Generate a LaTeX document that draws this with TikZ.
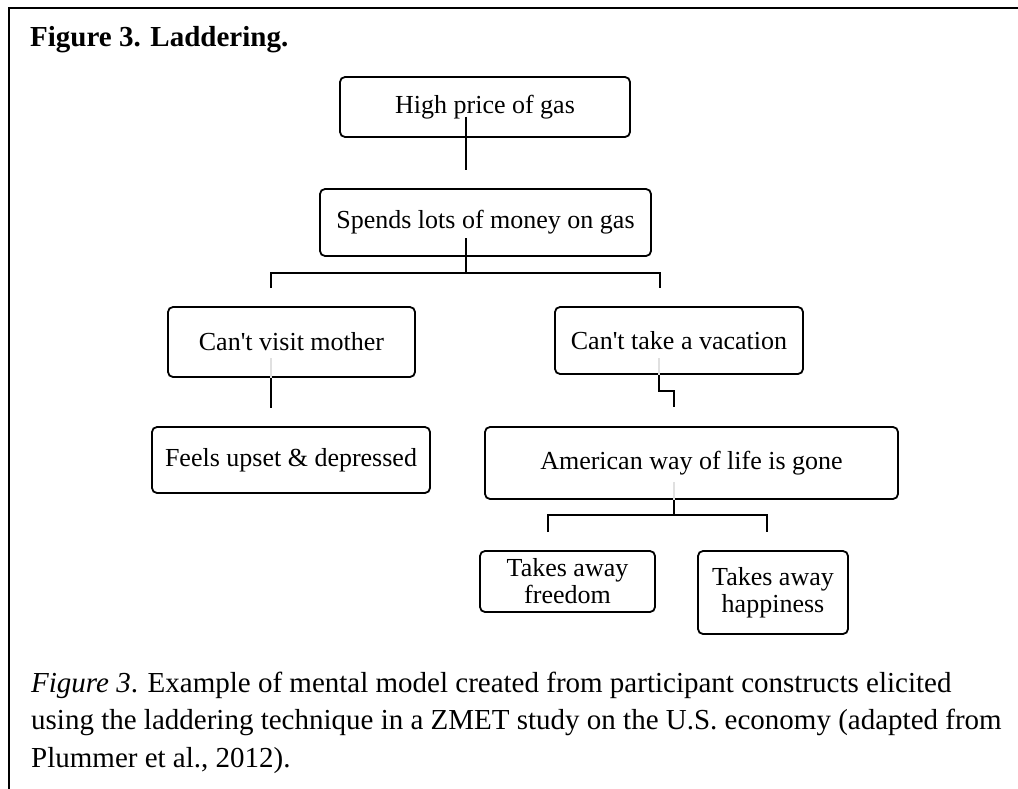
\documentclass[tikz,border=0pt]{standalone}
\usepackage{fontspec}
\setmainfont{Liberation Serif}
\usetikzlibrary{calc}
\newcommand\apos{\XeTeXglyph\XeTeXglyphindex "quotesingle"\relax}
\begin{document}
\begin{tikzpicture}[x=1pt,y=-1pt,
  box/.style={draw, line width=1.8pt, rounded corners=5pt, inner sep=0pt, align=center,
    font=\fontsize{26}{27}\selectfont},
  conn/.style={line width=2.6pt},
  faint/.style={line width=2pt, draw=black!12},
  frame/.style={line width=2.6pt}]
\useasboundingbox (0,0) rectangle (1018,789);
% frame
\coordinate (fbl) at (9,789);
\coordinate (ftl) at (9,8);
\coordinate (ftr) at (1018,8);
\draw[frame] (fbl) -- (ftl) -- (ftr);
% title
\node[anchor=base west, inner sep=0pt, font=\fontsize{29}{35}\selectfont\bfseries] (title) at (30,47) {Figure 3. Laddering.};
% boxes
\node[box, minimum width=290pt, minimum height=60pt] (b1) at (485,107) {High price of gas};
\node[box, minimum width=331pt, minimum height=67pt] (b2) at (485.5,222.5) {Spends lots of money on gas};
\node[box, minimum width=247pt, minimum height=70pt] (b3) at (291.5,342) {Can\apos t visit mother};
\node[box, minimum width=248pt, minimum height=67pt] (b4) at (679,340.5) {Can\apos t take a vacation};
\node[box, minimum width=278pt, minimum height=66pt] (b5) at (291,460) {Feels upset \& depressed};
\node[box, minimum width=413pt, minimum height=72pt] (b6) at (691.5,463) {American way of life is gone};
\node[box, minimum width=175pt, minimum height=61pt] (b7) at (567.5,581.5) {Takes away\\freedom};
\node[box, minimum width=150pt, minimum height=83pt] (b8) at (773,592.5) {Takes away\\happiness};
% connector b1 -> b2
\coordinate (c1a) at ($(b1.center)+(-19,10)$);
\coordinate (c1b) at (c1a |- 0,170);
\draw[conn] (c1a) -- (c1b);
% connector b2 -> b3, b4
\coordinate (c2a) at ($(b2.center)+(-19.5,15.5)$);
\coordinate (c2m) at (c2a |- 0,273);
\coordinate (c2l) at (271,273);
\coordinate (c2r) at (660,273);
\coordinate (c2ld) at (271,288);
\coordinate (c2rd) at (660,288);
\draw[conn] (c2a) -- (c2m);
\draw[conn] (c2ld) -- (c2l) -- (c2r) -- (c2rd);
% connector b3 -> b5
\coordinate (c3a) at (271,358);
\coordinate (c3b) at (b3.south -| c3a);
\coordinate (c3c) at (271,408);
\draw[faint] (c3a) -- (c3b);
\draw[conn] (c3b) -- (c3c);
% connector b4 -> b6
\coordinate (c4a) at (659,358);
\coordinate (c4b) at (b4.south -| c4a);
\coordinate (c4c) at (659,391);
\coordinate (c4d) at (674,391);
\coordinate (c4e) at (674,407);
\draw[faint] (c4a) -- (c4b);
\draw[conn] (c4b) -- (c4c) -- (c4d) -- (c4e);
% connector b6 -> b7, b8
\coordinate (c6a) at (674,482);
\coordinate (c6b) at (b6.south -| c6a);
\coordinate (c6m) at (674,515);
\coordinate (c6l) at (548,515);
\coordinate (c6r) at (767,515);
\coordinate (c6ld) at (548,532);
\coordinate (c6rd) at (767,532);
\draw[faint] (c6a) -- (c6b);
\draw[conn] (c6b) -- (c6m);
\draw[conn] (c6ld) -- (c6l) -- (c6r) -- (c6rd);
% caption
\node[anchor=base west, inner sep=0pt, align=left, font=\fontsize{29}{37.5}\selectfont] (cap) at (31,767)
  {\textit{Figure 3}. Example of mental model created from participant constructs elicited\\
   using the laddering technique in a ZMET study on the U.S. economy (adapted from\\
   Plummer et al., 2012).};
\end{tikzpicture}
\end{document}
